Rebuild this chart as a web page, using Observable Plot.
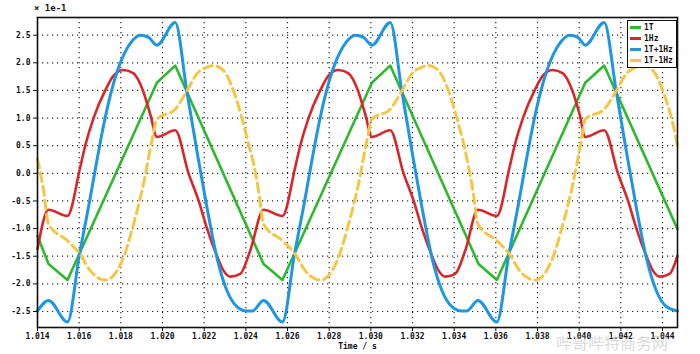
<!DOCTYPE html>
<html>
<head>
<meta charset="utf-8">
<script src="https://cdn.jsdelivr.net/npm/d3@7"></script>
<script src="https://cdn.jsdelivr.net/npm/@observablehq/plot@0.6"></script>
<style>
  html, body { margin: 0; padding: 0; background: #fff; }
  #wrap { position: relative; width: 700px; height: 354px; overflow: hidden; }
  #scale { position: absolute; left: 34px; top: 4px; font: bold 9px "DejaVu Sans Mono", monospace; color: #111; line-height: 1; }
  #legend { position: absolute; left: 627px; top: 20px; width: 48px; height: 45px; border: 1.5px solid #111; background: #fff;
            font: bold 8px "DejaVu Sans Mono", monospace; color: #111; padding-top: 1px; line-height: 1; }
  #legend .row { height: 11px; display: flex; align-items: center; white-space: nowrap; }
  #legend .sw { width: 11px; height: 3px; margin: 0 3px 0 2px; flex: none; }
  #wm { position: absolute; left: 556px; top: 334px; font: 16px "Noto Sans CJK SC", sans-serif; line-height: 1; color: rgba(170,170,170,0.45);
        white-space: nowrap; }
</style>
</head>
<body>
<div id="wrap"></div>
<script>
// time offsets (ms after 1.014 s) and values (×1e-1)
const T0 = 1.014;

const greenT = [0, 0.53, 1.44, 5.73, 6.61, 10.85, 11.76, 16.05, 16.93, 21.17, 22.05, 26.29, 27.20, 30.72];
const greenV = [-1.13, -1.64, -1.93, 1.64, 1.95, -1.64, -1.93, 1.64, 1.95, -1.64, -1.93, 1.64, 1.95, -1.01];

const redT = [
  0, 0.53, 1.44, 2.05, 2.29, 2.69, 3.25, 3.65, 4.13, 4.61, 5.06, 5.41, 5.73, 6.61, 7.25, 7.73, 8.13, 8.61, 8.93, 9.25, 9.73, 10.21,
  10.85, 11.76, 12.37, 12.61, 13.01, 13.57, 13.97, 14.45, 14.93, 15.38, 15.73, 16.05, 16.93, 17.57, 18.05, 18.45, 18.93, 19.25, 19.57, 20.05, 20.53,
  21.14, 22.05, 22.66, 22.90, 23.30, 23.86, 24.26, 24.74, 25.22, 25.67, 26.02, 26.29, 27.20, 27.86, 28.34, 28.74, 29.22, 29.54, 29.86, 30.34, 30.72
];
const redV = [
  -1.37, -0.66, -0.77, 0.11, 0.50, 1.00, 1.50, 1.77, 1.87, 1.81, 1.50, 1.07, 0.66, 0.78, 0.00, -0.49, -0.99, -1.49, -1.76, -1.87, -1.82, -1.40,
  -0.66, -0.77, 0.11, 0.50, 1.00, 1.50, 1.77, 1.87, 1.81, 1.50, 1.07, 0.66, 0.78, 0.00, -0.49, -0.99, -1.49, -1.76, -1.87, -1.82, -1.40,
  -0.66, -0.77, 0.11, 0.50, 1.00, 1.50, 1.77, 1.87, 1.81, 1.50, 1.07, 0.66, 0.78, 0.00, -0.49, -0.99, -1.49, -1.76, -1.87, -1.82, -1.49
];

const blueT = [
  0, 0.53, 1.44, 2.02, 2.45, 2.85, 3.25, 3.57, 3.84, 4.16, 4.53, 4.93, 5.33, 5.73, 6.61, 7.17, 7.65, 8.13, 8.61, 9.09, 9.57, 10.05,
  10.32, 10.85, 11.76, 12.34, 12.77, 13.17, 13.57, 13.89, 14.16, 14.48, 14.85, 15.25, 15.65, 16.05, 16.93, 17.49, 17.97, 18.45, 18.93, 19.41, 19.89, 20.37,
  20.61, 21.14, 22.05, 22.63, 23.06, 23.46, 23.86, 24.18, 24.45, 24.77, 25.14, 25.54, 25.94, 26.29, 27.20, 27.78, 28.26, 28.74, 29.22, 29.70, 30.18, 30.72
];
const blueV = [
  -2.49, -2.30, -2.69, -1.45, -0.61, 0.23, 1.01, 1.52, 1.86, 2.16, 2.39, 2.50, 2.46, 2.32, 2.73, 1.48, 0.41, -0.61, -1.52, -2.12, -2.41, -2.49,
  -2.49, -2.30, -2.69, -1.45, -0.61, 0.23, 1.01, 1.52, 1.86, 2.16, 2.39, 2.50, 2.46, 2.32, 2.73, 1.48, 0.41, -0.61, -1.52, -2.12, -2.41, -2.49,
  -2.49, -2.30, -2.69, -1.45, -0.61, 0.23, 1.01, 1.52, 1.86, 2.16, 2.39, 2.50, 2.46, 2.32, 2.73, 1.48, 0.41, -0.61, -1.52, -2.12, -2.41, -2.49
];

const yellowT = [
  0, 0.29, 0.53, 1.44, 2.02, 2.53, 3.01, 3.30, 3.65, 4.13, 4.61, 5.09, 5.49, 5.73, 6.61, 7.17, 7.65, 8.13, 8.45, 8.93, 9.41, 9.89, 10.21,
  10.32, 10.61, 10.85, 11.76, 12.34, 12.85, 13.33, 13.62, 13.97, 14.45, 14.93, 15.41, 15.81, 16.05, 16.93, 17.49, 17.97, 18.45, 18.77, 19.25, 19.73, 20.21, 20.53,
  20.61, 20.90, 21.14, 22.05, 22.63, 23.14, 23.62, 23.91, 24.26, 24.74, 25.22, 25.70, 26.10, 26.29, 27.20, 27.78, 28.26, 28.74, 29.06, 29.54, 30.02, 30.50, 30.72
];
const yellowV = [
  0.26, -0.31, -0.92, -1.22, -1.45, -1.76, -1.91, -1.93, -1.85, -1.52, -0.92, -0.19, 0.59, 0.98, 1.16, 1.49, 1.80, 1.92, 1.95, 1.86, 1.49, 0.89, 0.41,
  0.26, -0.31, -0.92, -1.22, -1.45, -1.76, -1.91, -1.93, -1.85, -1.52, -0.92, -0.19, 0.59, 0.98, 1.16, 1.49, 1.80, 1.92, 1.95, 1.86, 1.49, 0.89, 0.41,
  0.26, -0.31, -0.92, -1.22, -1.45, -1.76, -1.91, -1.93, -1.85, -1.52, -0.92, -0.19, 0.59, 0.98, 1.16, 1.49, 1.80, 1.92, 1.95, 1.86, 1.49, 0.89, 0.50
];

const seriesNames = ["1T", "1Hz", "1T+1Hz", "1T-1Hz"];
const seriesColors = ["#2eb82e", "#d8262b", "#1e96e2", "#f5c643"];

const xTicks = [1.014, 1.016, 1.018, 1.020, 1.022, 1.024, 1.026, 1.028, 1.030, 1.032, 1.034, 1.036, 1.038, 1.040, 1.042, 1.044];
const yTicks = [-2.5, -2.0, -1.5, -1.0, -0.5, 0.0, 0.5, 1.0, 1.5, 2.0, 2.5];
const xDomain = [1.014, 1.04472];
const yDomain = [-2.79, 2.82];

const toRows = (ts, vs) => ts.map((t, i) => ({t: T0 + t / 1000, v: vs[i]}));
const green = toRows(greenT, greenV);
const red = toRows(redT, redV);
const blue = toRows(blueT, blueV);
const yellow = toRows(yellowT, yellowV);

const chart = Plot.plot({
  width: 700,
  height: 354,
  marginLeft: 37,
  marginRight: 23,
  marginTop: 17,
  marginBottom: 27,
  style: {fontFamily: "DejaVu Sans Mono, monospace", fontSize: "8px", fontWeight: "bold", color: "#111", background: "#fff"},
  x: {domain: xDomain},
  y: {domain: yDomain},
  marks: [
    Plot.gridX(xTicks, {stroke: "#000", strokeOpacity: 0.85, strokeDasharray: "1.2,3.8", strokeWidth: 1.2}),
    Plot.gridY(yTicks, {stroke: "#000", strokeOpacity: 0.85, strokeDasharray: "1.2,3.8", strokeWidth: 1.2}),
    Plot.line(green, {x: "t", y: "v", stroke: seriesColors[0], strokeWidth: 2.6}),
    Plot.line(red, {x: "t", y: "v", stroke: seriesColors[1], strokeWidth: 2.6, curve: "monotone-x"}),
    Plot.line(blue, {x: "t", y: "v", stroke: seriesColors[2], strokeWidth: 3, curve: "monotone-x"}),
    Plot.line(yellow, {x: "t", y: "v", stroke: seriesColors[3], strokeWidth: 3, strokeDasharray: "9,5", curve: "monotone-x"}),
    Plot.frame({stroke: "#111", strokeWidth: 1.6}),
    Plot.axisX(xTicks, {tickSize: 4, tickPadding: 2, tickFormat: d => d.toFixed(3), label: "Time / s",
      labelAnchor: "center", labelArrow: "none", labelOffset: 21, stroke: "#111"}),
    Plot.axisY(yTicks, {tickSize: 4, tickPadding: 3, tickFormat: d => d.toFixed(1), label: null, stroke: "#111"})
  ]
});

const wrap = document.getElementById("wrap");
wrap.appendChild(chart);

const sc = document.createElement("div");
sc.id = "scale";
sc.textContent = "× 1e-1";
wrap.appendChild(sc);

const lg = document.createElement("div");
lg.id = "legend";
seriesNames.forEach((n, i) => {
  const row = document.createElement("div");
  row.className = "row";
  const sw = document.createElement("span");
  sw.className = "sw";
  sw.style.background = seriesColors[i];
  const tx = document.createElement("span");
  tx.textContent = n;
  row.appendChild(sw);
  row.appendChild(tx);
  lg.appendChild(row);
});
wrap.appendChild(lg);

const wm = document.createElement("div");
wm.id = "wm";
wm.textContent = "哔哥哔特商务网";
wrap.appendChild(wm);
</script>
</body>
</html>
